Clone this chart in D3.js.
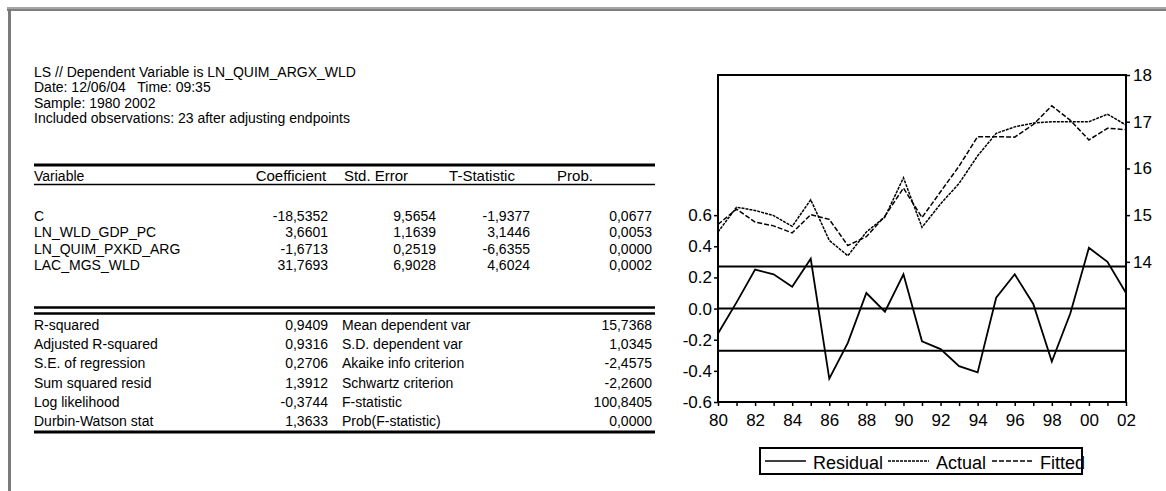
<!DOCTYPE html>
<html>
<head>
<meta charset="utf-8">
<script src="https://cdn.jsdelivr.net/npm/d3@7"></script>
<style>
  html, body { margin: 0; padding: 0; background: #fff; }
  svg { display: block; font-family: "Liberation Sans", Arial, sans-serif; }
  text { white-space: pre; }
</style>
</head>
<body>
<svg id="chart" width="1166" height="491"></svg>
<script>
// ---- Regression output (EViews style) ----
const headerLines = [
  "LS // Dependent Variable is LN_QUIM_ARGX_WLD",
  "Date: 12/06/04   Time: 09:35",
  "Sample: 1980 2002",
  "Included observations: 23 after adjusting endpoints"
];
const columnHeads = ["Variable", "Coefficient", "Std. Error", "T-Statistic", "Prob."];
const coefVars   = ["C", "LN_WLD_GDP_PC", "LN_QUIM_PXKD_ARG", "LAC_MGS_WLD"];
const coefValues = ["-18,5352", "3,6601", "-1,6713", "31,7693"];
const stdErrors  = ["9,5654", "1,1639", "0,2519", "6,9028"];
const tStats     = ["-1,9377", "3,1446", "-6,6355", "4,6024"];
const probs      = ["0,0677", "0,0053", "0,0000", "0,0002"];

const statLabelsL = ["R-squared", "Adjusted R-squared", "S.E. of regression",
                     "Sum squared resid", "Log likelihood", "Durbin-Watson stat"];
const statValuesL = ["0,9409", "0,9316", "0,2706", "1,3912", "-0,3744", "1,3633"];
const statLabelsR = ["Mean dependent var", "S.D. dependent var", "Akaike info criterion",
                     "Schwartz criterion", "F-statistic", "Prob(F-statistic)"];
const statValuesR = ["15,7368", "1,0345", "-2,4575", "-2,2600", "100,8405", "0,0000"];

// ---- Residual / Actual / Fitted series ----
const years    = d3.range(1980, 2003);
const residual = [-0.16, 0.04, 0.25, 0.22, 0.14, 0.32, -0.45, -0.22, 0.10, -0.02, 0.22, -0.21,
                  -0.26, -0.37, -0.41, 0.07, 0.22, 0.03, -0.34, -0.03, 0.39, 0.30, 0.10];
const actual   = [14.64, 15.17, 15.10, 14.99, 14.76, 15.33, 14.46, 14.13, 14.64, 14.96, 15.80, 14.74,
                  15.24, 15.68, 16.27, 16.75, 16.89, 16.97, 17.00, 17.00, 17.00, 17.16, 16.93];
const fitted   = [14.80, 15.13, 14.85, 14.77, 14.62, 15.01, 14.91, 14.35, 14.54, 14.98, 15.58, 14.95,
                  15.50, 16.05, 16.68, 16.68, 16.67, 16.94, 17.34, 17.03, 16.61, 16.86, 16.83];
const seRegression = 0.2706;
const residTicks = [-0.6, -0.4, -0.2, 0.0, 0.2, 0.4, 0.6];
const levelTicks = [14, 15, 16, 17, 18];
const legendNames = ["Residual", "Actual", "Fitted"];

const svg = d3.select("#chart");

// page frame
svg.append("rect").attr("x", 7).attr("y", 7).attr("width", 1159).attr("height", 2).attr("fill", "#a6a6a6");
svg.append("rect").attr("x", 7).attr("y", 9).attr("width", 1159).attr("height", 2).attr("fill", "#808080");
svg.append("rect").attr("x", 8).attr("y", 9).attr("width", 3).attr("height", 482).attr("fill", "#7a7a7a");

// ---- table ----
const T = svg.append("g").attr("font-size", 14).attr("fill", "#000");
const left = 34, right = 655;
headerLines.forEach((s, i) => T.append("text").attr("x", left).attr("y", 77 + i * 15.3).text(s));

T.append("line").attr("x1", left).attr("x2", right).attr("y1", 165).attr("y2", 165)
  .attr("stroke", "#000").attr("stroke-width", 3);
// column headings: first one left aligned, the others centred over their columns
const headX = [left, 291, 376, 482, 575];
columnHeads.forEach((s, i) => T.append("text")
  .attr("x", headX[i]).attr("y", 181).attr("font-size", i ? 15 : 14)
  .attr("text-anchor", i ? "middle" : "start").text(s));
T.append("line").attr("x1", left).attr("x2", right).attr("y1", 184.5).attr("y2", 184.5)
  .attr("stroke", "#000").attr("stroke-width", 1.5);

const colRight = [328, 436, 530, 652];
const rowY = i => 221 + i * 16.3;
coefVars.forEach((v, i) => {
  T.append("text").attr("x", left).attr("y", rowY(i)).text(v);
  [coefValues, stdErrors, tStats, probs].forEach((arr, c) =>
    T.append("text").attr("x", colRight[c]).attr("y", rowY(i)).attr("text-anchor", "end").text(arr[i]));
});

T.append("line").attr("x1", left).attr("x2", right).attr("y1", 307.5).attr("y2", 307.5)
  .attr("stroke", "#000").attr("stroke-width", 2.5);
T.append("line").attr("x1", left).attr("x2", right).attr("y1", 313.5).attr("y2", 313.5)
  .attr("stroke", "#000").attr("stroke-width", 2.5);

const statY = i => 330 + i * 19.2;
statLabelsL.forEach((s, i) => {
  T.append("text").attr("x", left).attr("y", statY(i)).text(s);
  T.append("text").attr("x", 328).attr("y", statY(i)).attr("text-anchor", "end").text(statValuesL[i]);
  T.append("text").attr("x", 342).attr("y", statY(i)).text(statLabelsR[i]);
  T.append("text").attr("x", 652).attr("y", statY(i)).attr("text-anchor", "end").text(statValuesR[i]);
});
T.append("line").attr("x1", left).attr("x2", right).attr("y1", 432).attr("y2", 432)
  .attr("stroke", "#000").attr("stroke-width", 3);

// ---- residual / actual / fitted graph ----
const x  = d3.scaleLinear().domain([1980, 2002]).range([718, 1126]);
const yL = d3.scaleLinear().domain([-0.6, 1.5]).range([402, 75]);
const yR = d3.scaleLinear().domain([11, 18]).range([402, 75]);
const G = svg.append("g");

// horizontal reference lines: zero and +/- one standard error
[seRegression, 0, -seRegression].forEach(v =>
  G.append("line").attr("x1", x(1980)).attr("x2", x(2002)).attr("y1", yL(v)).attr("y2", yL(v))
    .attr("stroke", "#000").attr("stroke-width", 2));

const lineR = d3.line().x((d, i) => x(years[i])).y(d => yL(d));
const lineV = d3.line().x((d, i) => x(years[i])).y(d => yR(d));
G.append("path").attr("d", lineV(actual)).attr("fill", "none").attr("stroke", "#000")
  .attr("stroke-width", 1.5).attr("stroke-dasharray", "3,1");
G.append("path").attr("d", lineV(fitted)).attr("fill", "none").attr("stroke", "#000")
  .attr("stroke-width", 1.5).attr("stroke-dasharray", "5,2");
G.append("path").attr("d", lineR(residual)).attr("fill", "none").attr("stroke", "#000")
  .attr("stroke-width", 1.8);

// plot box
G.append("rect").attr("x", x(1980)).attr("y", 75).attr("width", x(2002) - x(1980)).attr("height", 327)
  .attr("fill", "none").attr("stroke", "#000").attr("stroke-width", 2);

const styleAxis = g => {
  g.select(".domain").remove();
  g.selectAll("line").attr("stroke", "#000").attr("stroke-width", 1.5);
  g.selectAll("text").attr("fill", "#000").attr("font-size", 17)
    .attr("font-family", "Liberation Sans, Arial, sans-serif");
};
G.append("g").attr("transform", `translate(${x(1980)},0)`)
  .call(d3.axisLeft(yL).tickValues(residTicks).tickSize(4).tickPadding(2).tickFormat(d => d.toFixed(1)))
  .call(styleAxis);
G.append("g").attr("transform", `translate(${x(2002)},0)`)
  .call(d3.axisRight(yR).tickValues(levelTicks).tickSize(4).tickPadding(3).tickFormat(d => String(d)))
  .call(styleAxis);
G.append("g").attr("transform", "translate(0,402)")
  .call(d3.axisBottom(x).tickValues(years).tickSize(4).tickPadding(8)
    .tickFormat(d => d % 2 === 0 ? String(d).slice(2) : ""))
  .call(styleAxis);

// legend
const L = svg.append("g");
L.append("rect").attr("x", 760).attr("y", 448).attr("width", 322).attr("height", 26)
  .attr("fill", "none").attr("stroke", "#000").attr("stroke-width", 2);
const legX = [765, 888, 992];
const legDash = [null, "3,1", "5,2"];
legendNames.forEach((n, i) => {
  const ln = L.append("line").attr("x1", legX[i]).attr("x2", legX[i] + 41).attr("y1", 461).attr("y2", 461)
    .attr("stroke", "#000").attr("stroke-width", 1.5);
  if (legDash[i]) ln.attr("stroke-dasharray", legDash[i]);
  L.append("text").attr("x", legX[i] + 48).attr("y", 469).attr("font-size", 18).text(n);
});
</script>
</body>
</html>
